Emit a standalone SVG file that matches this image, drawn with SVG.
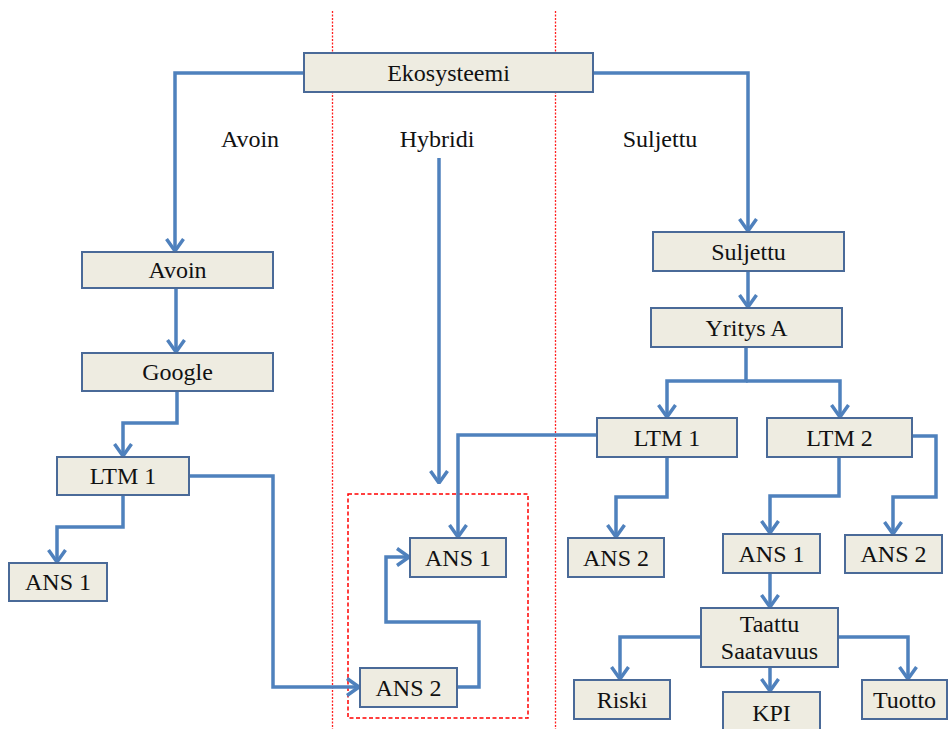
<svg xmlns="http://www.w3.org/2000/svg" width="949" height="729" viewBox="0 0 949 729">
<style>
.box{fill:#EEECE1;stroke:#4A6A98;stroke-width:2}
.t{font-family:"Liberation Serif","Times New Roman",serif;font-size:24px;fill:#111111;text-anchor:middle}
.c{fill:none;stroke:#4F81BD;stroke-width:3.5;stroke-linejoin:miter}
.zone{stroke:#FF2020;stroke-width:1.3;stroke-dasharray:2 1.5;fill:none}
.hyb{stroke:#FF0000;stroke-width:1.5;stroke-dasharray:4 2.5;fill:none}
</style>
<defs>
<marker id="arr" viewBox="0 0 14 20" refX="13" refY="10" markerWidth="14" markerHeight="20" markerUnits="userSpaceOnUse" orient="auto">
<path d="M1,1.5 L13,10 L1,18.5" fill="none" stroke="#4F81BD" stroke-width="3.5"/>
</marker>
</defs>
<rect width="949" height="729" fill="#FFFFFF"/>
<g id="zones">
<line class="zone" x1="332.5" y1="11" x2="332.5" y2="729"/>
<line class="zone" x1="555.5" y1="11" x2="555.5" y2="729"/>
<rect class="hyb" x="348" y="494" width="180" height="224"/>
</g>
<g id="labels">
<text class="t" x="250" y="147">Avoin</text>
<text class="t" x="437" y="147">Hybridi</text>
<text class="t" x="660" y="147">Suljettu</text>
</g>
<g id="connectors">
<path class="c" d="M304,73 H175 V251" marker-end="url(#arr)"/>
<path class="c" d="M593,73 H748 V231" marker-end="url(#arr)"/>
<path class="c" d="M176,288 V352" marker-end="url(#arr)"/>
<path class="c" d="M177,391 V423 H123 V456" marker-end="url(#arr)"/>
<path class="c" d="M123,495 V527 H57 V562" marker-end="url(#arr)"/>
<path class="c" d="M189,476 H273 V687 H359" marker-end="url(#arr)"/>
<path class="c" d="M439,158 V483" marker-end="url(#arr)"/>
<path class="c" d="M597,435 H458 V537" marker-end="url(#arr)"/>
<path class="c" d="M458,687 H479 V622 H386 V557 H409" marker-end="url(#arr)"/>
<path class="c" d="M748,271 V307" marker-end="url(#arr)"/>
<path class="c" d="M746,347 V381 H667 V417" marker-end="url(#arr)"/>
<path class="c" d="M746,381 H840 V417" marker-end="url(#arr)"/>
<path class="c" d="M667,457 V497 H616 V537" marker-end="url(#arr)"/>
<path class="c" d="M839,457 V496 H770 V533" marker-end="url(#arr)"/>
<path class="c" d="M912,436 H936 V497 H893 V534" marker-end="url(#arr)"/>
<path class="c" d="M770,573 V607" marker-end="url(#arr)"/>
<path class="c" d="M701,637 H620 V679" marker-end="url(#arr)"/>
<path class="c" d="M770,667 V691" marker-end="url(#arr)"/>
<path class="c" d="M838,637 H908 V679" marker-end="url(#arr)"/>
</g>
<g id="n-ekosysteemi"><rect class="box" x="304" y="53" width="289" height="39"/><text class="t" x="448.5" y="81">Ekosysteemi</text></g>
<g id="n-avoin"><rect class="box" x="82" y="252" width="191" height="36"/><text class="t" x="177.5" y="278">Avoin</text></g>
<g id="n-google"><rect class="box" x="82" y="353" width="191" height="38"/><text class="t" x="177.5" y="380">Google</text></g>
<g id="n-ltm1-a"><rect class="box" x="57" y="457" width="132" height="38"/><text class="t" x="123" y="484">LTM 1</text></g>
<g id="n-ans1-a"><rect class="box" x="9" y="563" width="98" height="38"/><text class="t" x="58" y="590">ANS 1</text></g>
<g id="n-ans1-h"><rect class="box" x="410" y="538" width="96" height="39"/><text class="t" x="458" y="566">ANS 1</text></g>
<g id="n-ans2-h"><rect class="box" x="360" y="668" width="97" height="39"/><text class="t" x="408.5" y="696">ANS 2</text></g>
<g id="n-suljettu"><rect class="box" x="653" y="232" width="191" height="39"/><text class="t" x="748.5" y="260">Suljettu</text></g>
<g id="n-yritys"><rect class="box" x="651" y="308" width="191" height="39"/><text class="t" x="746.5" y="336">Yritys A</text></g>
<g id="n-ltm1-s"><rect class="box" x="597" y="418" width="140" height="39"/><text class="t" x="667" y="446">LTM 1</text></g>
<g id="n-ltm2-s"><rect class="box" x="767" y="418" width="145" height="39"/><text class="t" x="839.5" y="446">LTM 2</text></g>
<g id="n-ans2-s1"><rect class="box" x="568" y="538" width="96" height="39"/><text class="t" x="616" y="566">ANS 2</text></g>
<g id="n-ans1-s"><rect class="box" x="723" y="534" width="97" height="39"/><text class="t" x="771.5" y="562">ANS 1</text></g>
<g id="n-ans2-s2"><rect class="box" x="845" y="535" width="97" height="38"/><text class="t" x="893.5" y="562">ANS 2</text></g>
<g id="n-taattu"><rect class="box" x="701" y="608" width="137" height="59"/><text class="t" x="769.5" y="632">Taattu</text><text class="t" x="769.5" y="659">Saatavuus</text></g>
<g id="n-riski"><rect class="box" x="574" y="680" width="96" height="39"/><text class="t" x="622" y="708">Riski</text></g>
<g id="n-kpi"><rect class="box" x="723" y="692" width="97" height="40"/><text class="t" x="771.5" y="721">KPI</text></g>
<g id="n-tuotto"><rect class="box" x="862" y="680" width="85" height="39"/><text class="t" x="904.5" y="708">Tuotto</text></g>
</svg>
